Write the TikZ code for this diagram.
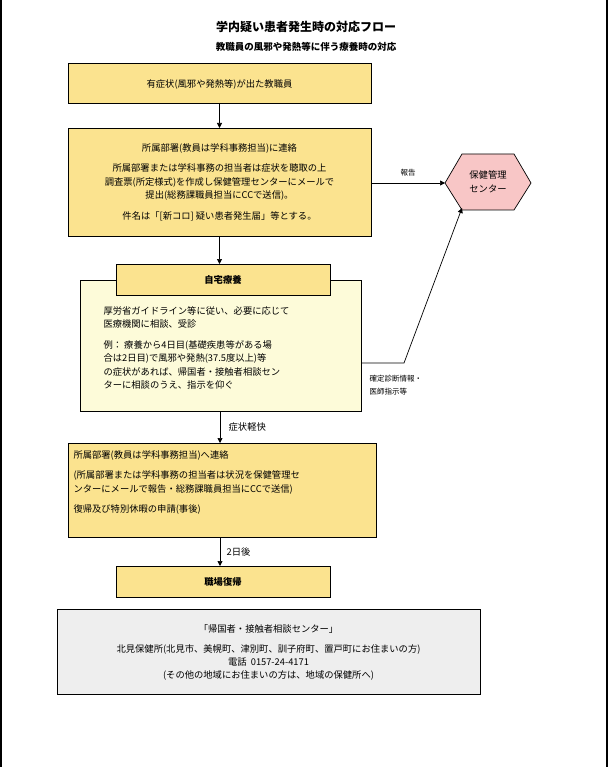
\documentclass[tikz,border=0pt]{standalone}
\usepackage{fontspec}
\setmainfont{Noto Sans CJK JP}
\usetikzlibrary{arrows.meta}
\definecolor{boxyellow}{HTML}{FBE38F}
\definecolor{paleyellow}{HTML}{FDFBD9}
\definecolor{hexpink}{HTML}{F8C6C6}
\definecolor{panelgray}{HTML}{EEEEEE}
\tikzset{
	flowbox/.style={draw,fill=boxyellow,line width=0.8pt},
	boxtext/.style={font=\fontsize{9.3}{13.5}\selectfont},
	flowarrow/.style={-{Triangle[length=5pt,width=5pt]},line width=0.7pt},
	lbl/.style={font=\fontsize{7.5}{13}\selectfont}
}
\begin{document}
\begin{tikzpicture}[x=1pt,y=-1pt]
		\useasboundingbox (0,0) rectangle (612,767);
		\draw[line width=2pt] (1,0) -- (1,767);
		\draw[line width=2pt] (607,0) -- (607,767);
		\node[font=\bfseries\fontsize{12}{14}\selectfont] (title) at (306,27) {学内疑い患者発生時の対応フロー};
		\node[font=\bfseries\fontsize{9.5}{12}\selectfont] (subtitle) at (306,47) {教職員の風邪や発熱等に伴う療養時の対応};
		% boxes
		\draw[flowbox] (68,63) rectangle (371,103);
		\node[boxtext] (staff) at (219.5,84) {有症状(風邪や発熱等)が出た教職員};
		\draw[flowbox] (68,128) rectangle (371,236);
		\node[boxtext,align=center] (dept) at (219.5,182)
		{所属部署(教員は学科事務担当)に連絡\\[7pt]
		所属部署または学科事務の担当者は症状を聴取の上\\
		調査票(所定様式)を作成し保健管理センターにメールで\\
		提出(総務課職員担当にCCで送信)。\\[7pt]
		件名は「[新コロ] 疑い患者発生届」等とする。};
		\draw[line width=0.8pt,fill=paleyellow] (80,280) rectangle (361,411);
		\draw[flowbox] (116,264) rectangle (330,295);
		\node[boxtext,font=\bfseries\fontsize{9.3}{12}\selectfont] (home) at (223,280) {自宅療養};
		\node[boxtext,align=left,anchor=north west] (homeText) at (100,303)
		{厚労省ガイドライン等に従い、必要に応じて\\
		医療機関に相談、受診\\[7pt]
		例：\ 療養から4日目(基礎疾患等がある場\\
		合は2日目)で風邪や発熱(37.5度以上)等\\
		の症状があれば、帰国者・接触者相談セン\\
		ターに相談のうえ、指示を仰ぐ};
		\draw[flowbox] (68,443) rectangle (376,537);
		\node[boxtext,align=left,anchor=north west] (report) at (70,447)
		{所属部署(教員は学科事務担当)へ連絡\\[7pt]
		(所属部署または学科事務の担当者は状況を保健管理セ\\
		ンターにメールで報告・総務課職員担当にCCで送信)\\[7pt]
		復帰及び特別休暇の申請(事後)};
		\draw[flowbox] (116,566) rectangle (330,597);
		\node[boxtext,font=\bfseries\fontsize{9.3}{12}\selectfont] (back) at (223,582) {職場復帰};
		\draw[line width=0.7pt,fill=hexpink] (445,183) -- (462,154) -- (514,154) -- (531,183) -- (514,210) -- (462,210) -- cycle;
		\node[boxtext,align=center] (center) at (488,182) {保健管理\\センター};
		\coordinate (hexL) at (445,183);
		\coordinate (hexBL) at (462,208);
		\draw[line width=0.8pt,fill=panelgray] (57,609) rectangle (480,694);
		\node[boxtext,font=\fontsize{9.3}{13}\selectfont,align=center] (consult) at (268.5,652)
		{「帰国者・接触者相談センター」\\[7pt]
		北見保健所(北見市、美幌町、津別町、訓子府町、置戸町にお住まいの方)\\
		電話\ \ 0157-24-4171\\
		(その他の地域にお住まいの方は、地域の保健所へ)};
		% connectors
		\coordinate (bend) at (404,363);
		\draw[flowarrow] (219.5,103) -- (219.5,128);
		\draw[flowarrow] (219.5,236) -- (219.5,264);
		\draw[flowarrow] (371,183) -- node[lbl,above=3pt] {報告} (hexL);
		\draw[flowarrow] (361,363) -- (bend) -- (hexBL);
		\node[lbl,align=left,anchor=north west] (diag) at (366,372) {確定診断情報・\\医師指示等};
		\draw[flowarrow] (220,411) -- node[boxtext,right=5pt] {症状軽快} (220,443);
		\draw[flowarrow] (220,537) -- node[boxtext,right=3pt] {2日後} (220,566);
	\end{tikzpicture}
\end{document}
